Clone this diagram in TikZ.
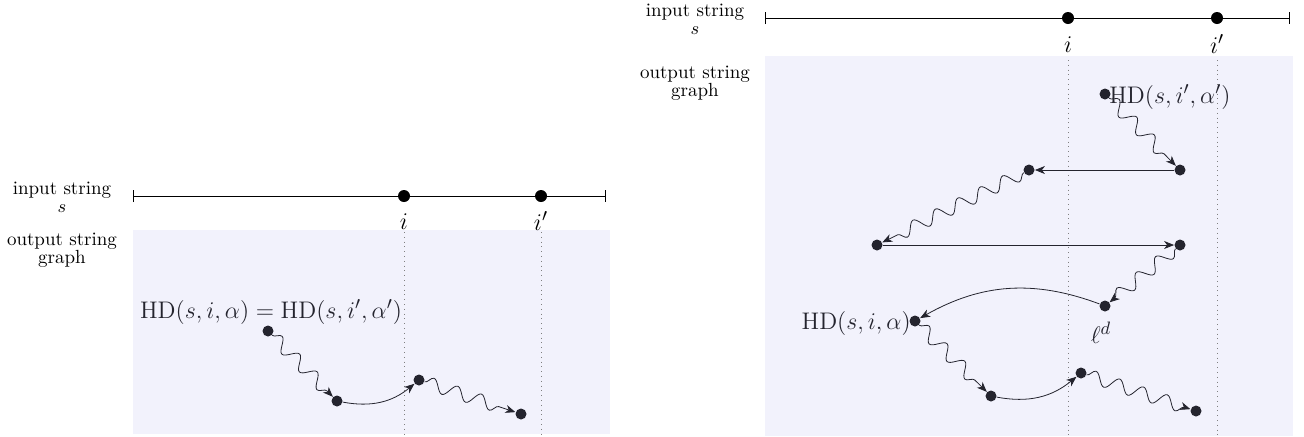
\documentclass[tikz,border=0pt]{standalone}
\usetikzlibrary{decorations.pathmorphing,arrows.meta}
\definecolor{bgfill}{HTML}{F2F2FC}
\definecolor{ink}{HTML}{24242E}
\tikzset{
  dot/.style={circle,fill=ink,inner sep=0pt,minimum size=5.5pt},
  sdot/.style={circle,fill=black,inner sep=0pt,minimum size=6pt},
  lbl/.style={font=\fontsize{9.5}{8.8}\selectfont,align=center,inner sep=0pt},
  mlbl/.style={font=\fontsize{13}{15}\selectfont,text=ink,inner sep=0pt},
  mlblL/.style={font=\fontsize{12.2}{14}\selectfont,text=ink,inner sep=0pt},
  ilbl/.style={font=\fontsize{12.5}{14}\selectfont,inner sep=0pt},
  wavy/.style={ink,-{Stealth[length=5pt,width=4pt,inset=1.5pt]},decorate,
    decoration={snake,amplitude=3.2pt,segment length=12.5pt,post length=3pt}},
  arr/.style={ink,-{Stealth[length=5pt,width=4pt,inset=1.5pt]}},
  strline/.style={{Bar[width=6pt]}-{Bar[width=6pt]},line width=0.5pt},
  guide/.style={dotted,gray},
  panel/.style={fill=bgfill,draw=none},
}
\begin{document}
\begin{tikzpicture}[x=0.5pt,y=-0.5pt]
\useasboundingbox (0,0) rectangle (1304,436);

% ---------------- left panel ----------------
\fill[panel] (133,230) rectangle (610,434);
\node[lbl] (inL) at (62,197) {input string\\$s$};
\node[lbl] (outL) at (62,250) {output string\\graph};
\coordinate (lsL) at (133,196);
\coordinate (leL) at (606,196);
\draw[strline] (lsL) -- (leL);
\node[sdot] (iL) at (404,196) {};
\node[sdot] (ipL) at (541,196) {};
\node[ilbl] (iLl) at (404,222) {$i$};
\node[ilbl] (ipLl) at (541,221) {$i'$};
\coordinate (gL1t) at (404,232); \coordinate (gL1b) at (404,434);
\coordinate (gL2t) at (541,232); \coordinate (gL2b) at (541,434);
\draw[guide] (gL1t) -- (gL1b);
\draw[guide] (gL2t) -- (gL2b);

\node[mlblL] (hdA) at (271,312) {$\mathrm{HD}(s,i,\alpha) = \mathrm{HD}(s,i',\alpha')$};
\node[dot] (a) at (268,331) {};
\node[dot] (b) at (337,401) {};
\node[dot] (c) at (419,380) {};
\node[dot] (d) at (521,414) {};
\draw[wavy] (a) -- (b);
\draw[arr] (b) to[bend right=25] (c);
\draw[wavy] (c) -- (d);

% ---------------- right panel ----------------
\fill[panel] (765,56) rectangle (1293,436);
\node[lbl] (inR) at (695,19) {input string\\$s$};
\node[lbl] (outR) at (695,83) {output string\\graph};
\coordinate (lsR) at (765,18);
\coordinate (leR) at (1290,18);
\draw[strline] (lsR) -- (leR);
\node[sdot] (iR) at (1068,18) {};
\node[sdot] (ipR) at (1217,18) {};
\node[ilbl] (iRl) at (1068,45) {$i$};
\node[ilbl] (ipRl) at (1217,44) {$i'$};
\coordinate (gR1t) at (1068,60); \coordinate (gR1b) at (1068,436);
\coordinate (gR2t) at (1217,60); \coordinate (gR2b) at (1217,436);
\draw[guide] (gR1t) -- (gR1b);
\draw[guide] (gR2t) -- (gR2b);

\node[dot,label={[mlbl,xshift=-1pt,yshift=-1.5pt]right:$\mathrm{HD}(s,i',\alpha')$}] (p1) at (1105,94) {};
\node[dot] (p2) at (1180,170) {};
\node[dot] (p3) at (1029,170) {};
\node[dot] (p4) at (877,245) {};
\node[dot] (p5) at (1180,245) {};
\node[dot,label={[mlbl,yshift=-5pt,xshift=-2pt]below:$\ell^{d}$}] (p6) at (1105,306) {};
\node[dot,label={[mlbl,xshift=1pt,yshift=-1pt]left:$\mathrm{HD}(s,i,\alpha)$}] (p7) at (915,321) {};
\node[dot] (p8) at (991,396) {};
\node[dot] (p9) at (1081,373) {};
\node[dot] (p10) at (1196,411) {};

\draw[wavy] (p1) -- (p2);
\draw[arr] (p2) -- (p3);
\draw[wavy] (p3) -- (p4);
\draw[arr] (p4) -- (p5);
\draw[wavy] (p5) -- (p6);
\draw[arr] (p6) to[bend right=25] (p7);
\draw[wavy] (p7) -- (p8);
\draw[arr] (p8) to[bend right=25] (p9);
\draw[wavy] (p9) -- (p10);
\end{tikzpicture}
\end{document}
